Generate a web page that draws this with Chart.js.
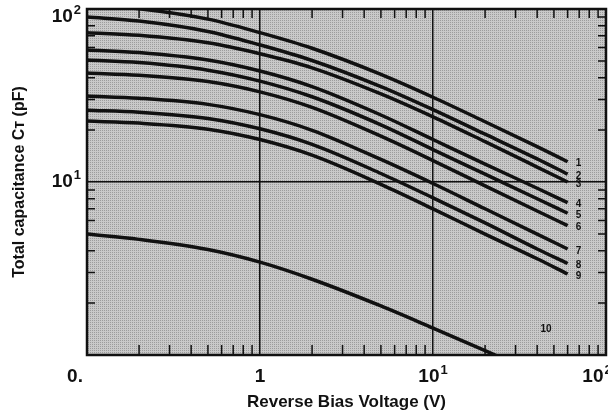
<!DOCTYPE html>
<html>
<head>
<meta charset="utf-8">
<script src="https://cdn.jsdelivr.net/npm/chart.js@4/dist/chart.umd.min.js"></script>
<style>
  html, body { margin: 0; padding: 0; background: #fff; }
  #wrap { width: 608px; height: 416px; }
</style>
</head>
<body>
<div id="wrap"><canvas id="myChart"></canvas></div>
<script>
// voltage points (V) for curves 1-9
var voltage = [0.1, 0.2, 0.5, 1, 2, 5, 10, 20, 40, 60];
var c1 = [106, 100.3, 87.4, 73, 59.3, 41.9, 30.9, 22.3, 16.0, 13.1];
var c2 = [90, 85.2, 74.2, 62, 50.4, 35.6, 26.2, 18.9, 13.6, 11.1];
var c3 = [73, 70.5, 63.8, 55.1, 45.7, 32.3, 23.8, 17.1, 12.2, 10.0];
var c4 = [58, 56, 50.7, 43.8, 35.6, 24.4, 17.6, 12.7, 9.2, 7.6];
var c5 = [50.7, 49, 44.3, 38.3, 31.1, 21.4, 15.4, 11.1, 8.0, 6.6];
var c6 = [42.6, 41.4, 38.1, 33.2, 27.0, 18.4, 13.3, 9.5, 6.8, 5.6];
var c7 = [31.4, 30.5, 28.1, 24.5, 19.9, 13.5, 9.8, 7.0, 5.0, 4.1];
var c8 = [26, 25.3, 23.3, 20.3, 16.5, 11.2, 8.1, 5.8, 4.1, 3.38];
var c9 = [22.5, 21.9, 20.2, 17.6, 14.3, 9.7, 7.0, 5.0, 3.6, 2.94];
// curve 10
var voltage10 = [0.1, 0.2, 0.5, 1, 2, 5, 10, 20, 30];
var c10 = [5.0, 4.66, 4.07, 3.44, 2.74, 1.92, 1.43, 1.06, 0.885];

var xTicks = [0.1, 0.2, 0.3, 0.4, 0.5, 0.6, 0.7, 0.8, 0.9, 1, 2, 3, 4, 5, 6, 7, 8, 9, 10, 20, 30, 40, 50, 60, 70, 80, 90, 100];
var yTicks = [1, 2, 3, 4, 5, 6, 7, 8, 9, 10, 20, 30, 40, 50, 60, 70, 80, 90, 100];
// [base, exponent]
var xLabels = { 0.1: ["0.", ""], 1: ["1", ""], 10: ["10", "1"], 100: ["10", "2"] };
var yLabels = { 10: ["10", "1"], 100: ["10", "2"] };
var label10 = { x: 45, y: 1.4 };

var allCurves = [c1, c2, c3, c4, c5, c6, c7, c8, c9];
var FONT = "'Liberation Sans', Arial, sans-serif";

function isDecade(v) {
  var l = Math.log10(v);
  return Math.abs(l - Math.round(l)) < 1e-9;
}

// fine stipple background
var pat = document.createElement("canvas");
pat.width = 2;
pat.height = 2;
var pctx = pat.getContext("2d");
pctx.fillStyle = "#c9c9c9";
pctx.fillRect(0, 0, 2, 2);
pctx.fillStyle = "#9c9c9c";
pctx.fillRect(0, 0, 1, 1);

// draws "10" with raised exponent; align: "center" or "right"
function drawPow(ctx, lab, x, y, align) {
  ctx.font = "bold 19px " + FONT;
  var wb = ctx.measureText(lab[0]).width;
  ctx.font = "bold 13px " + FONT;
  var we = lab[1] ? ctx.measureText(lab[1]).width + 1 : 0;
  var w = wb + we;
  var left = align === "right" ? x - w : x - w / 2;
  ctx.textAlign = "left";
  ctx.textBaseline = "middle";
  ctx.font = "bold 19px " + FONT;
  ctx.fillText(lab[0], left, y);
  if (lab[1]) {
    ctx.font = "bold 13px " + FONT;
    ctx.fillText(lab[1], left + wb + 1, y - 7);
  }
}

var datasets = allCurves.map(function(vals, idx) {
  return {
    label: String(idx + 1),
    data: voltage.map(function(v, k) { return { x: v, y: vals[k] }; }),
    borderColor: "#111",
    borderWidth: 3.5,
    pointRadius: 0,
    cubicInterpolationMode: "monotone",
    fill: false
  };
});
datasets.push({
  label: "10",
  data: voltage10.map(function(v, k) { return { x: v, y: c10[k] }; }),
  borderColor: "#111",
  borderWidth: 3.5,
  pointRadius: 0,
  cubicInterpolationMode: "monotone",
  fill: false
});

var decor = {
  id: "decor",
  beforeDraw: function(chart) {
    var ctx = chart.ctx, a = chart.chartArea;
    ctx.save();
    ctx.fillStyle = ctx.createPattern(pat, "repeat");
    ctx.fillRect(a.left, a.top, a.right - a.left, a.bottom - a.top);
    ctx.restore();
  },
  afterDatasetsDraw: function(chart) {
    var ctx = chart.ctx, a = chart.chartArea;
    var xs = chart.scales.x, ys = chart.scales.y;
    ctx.save();
    ctx.strokeStyle = "#111";
    ctx.lineWidth = 1.5;
    // inner ticks
    xTicks.forEach(function(v) {
      if (isDecade(v)) return;
      var px = xs.getPixelForValue(v);
      ctx.beginPath();
      ctx.moveTo(px, a.bottom);
      ctx.lineTo(px, a.bottom - 10);
      ctx.moveTo(px, a.top);
      ctx.lineTo(px, a.top + 9);
      ctx.stroke();
    });
    yTicks.forEach(function(v) {
      if (isDecade(v)) return;
      var py = ys.getPixelForValue(v);
      ctx.beginPath();
      ctx.moveTo(a.left, py);
      ctx.lineTo(a.left + 8, py);
      ctx.moveTo(a.right, py);
      ctx.lineTo(a.right - 8, py);
      ctx.stroke();
    });
    // frame
    ctx.lineWidth = 2.5;
    ctx.strokeRect(a.left, a.top, a.right - a.left, a.bottom - a.top);

    // tick labels
    ctx.fillStyle = "#111";
    Object.keys(xLabels).forEach(function(k) {
      var v = parseFloat(k);
      var px = xs.getPixelForValue(v);
      if (v === 0.1) px -= 12;
      if (v === 100) px -= 9;
      drawPow(ctx, xLabels[k], px, 377, "center");
    });
    Object.keys(yLabels).forEach(function(k) {
      var py = Math.max(ys.getPixelForValue(parseFloat(k)), 17);
      drawPow(ctx, yLabels[k], 81, py, "right");
    });

    // curve numbers
    ctx.font = "bold 10px " + FONT;
    ctx.textAlign = "center";
    ctx.textBaseline = "middle";
    for (var d = 0; d < 9; d++) {
      var pts = chart.getDatasetMeta(d).data;
      var last = pts[pts.length - 1];
      ctx.fillText(String(d + 1), last.x + 11, last.y + 2);
    }
    ctx.fillText("10", xs.getPixelForValue(label10.x), ys.getPixelForValue(label10.y));
    ctx.restore();
  }
};

var ctx = document.getElementById("myChart").getContext("2d");
var myChart = new Chart(ctx, {
  type: "line",
  data: { datasets: datasets },
  options: {
    responsive: true,
    maintainAspectRatio: false,
    animation: false,
    layout: { padding: { top: 9, right: 2, left: 0, bottom: 0 } },
    plugins: { legend: { display: false }, tooltip: { enabled: false } },
    scales: {
      x: {
        type: "logarithmic",
        min: 0.1,
        max: 100,
        afterBuildTicks: function(scale) {
          scale.ticks = xTicks.map(function(v) { return { value: v }; });
        },
        afterFit: function(scale) { scale.height = 61; },
        ticks: { display: false },
        border: { display: false },
        grid: {
          drawTicks: false,
          lineWidth: 1.5,
          color: function(c) {
            return c.tick && isDecade(c.tick.value) ? "#111" : "rgba(0,0,0,0)";
          }
        },
        title: {
          display: true,
          text: "Reverse Bias Voltage (V)",
          color: "#111",
          font: { family: FONT, size: 17, weight: "bold" },
          padding: { top: 0, bottom: 3 }
        }
      },
      y: {
        type: "logarithmic",
        min: 1,
        max: 100,
        afterBuildTicks: function(scale) {
          scale.ticks = yTicks.map(function(v) { return { value: v }; });
        },
        afterFit: function(scale) { scale.width = 87; },
        ticks: { display: false },
        border: { display: false },
        grid: {
          drawTicks: false,
          lineWidth: 1.5,
          color: function(c) {
            return c.tick && isDecade(c.tick.value) ? "#111" : "rgba(0,0,0,0)";
          }
        },
        title: {
          display: true,
          text: "Total capacitance C\u1d1b (pF)",
          color: "#111",
          font: { family: FONT, size: 16, weight: "bold" },
          padding: { top: 10, bottom: 0 }
        }
      }
    }
  },
  plugins: [decor]
});
</script>
</body>
</html>
